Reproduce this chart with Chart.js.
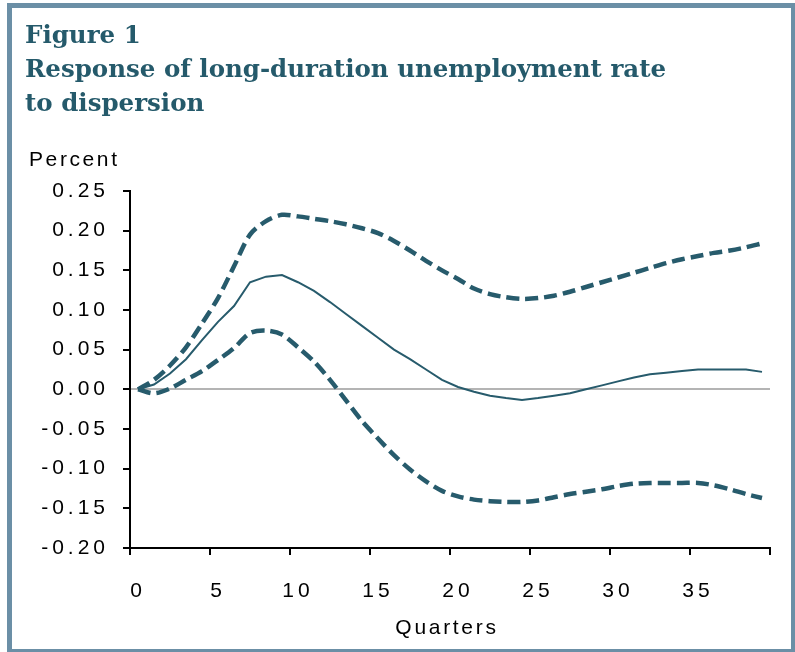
<!DOCTYPE html>
<html><head><meta charset="utf-8">
<script src="https://cdn.jsdelivr.net/npm/chart.js@4.4.0/dist/chart.umd.min.js"></script>
<style>
html,body{margin:0;padding:0;background:#fff;}
body{width:795px;height:652px;position:relative;overflow:hidden;}
#c{position:absolute;left:0;top:0;}
#frame{position:absolute;left:7px;top:3px;width:789px;height:651px;border:5px solid #6b8fa6;box-sizing:border-box;pointer-events:none;}
#title{position:absolute;left:25px;top:18px;font-family:"DejaVu Serif",serif;font-weight:bold;font-size:24.5px;line-height:34px;color:#255a6b;white-space:nowrap;}
.axt{position:absolute;font-family:"Liberation Sans",Arial,sans-serif;font-size:21px;line-height:21px;color:#000;white-space:nowrap;}
#ylab{left:29px;top:148px;letter-spacing:2.6px;}
#xlab{left:347px;width:200px;text-align:center;top:616px;letter-spacing:2.7px;}
</style></head>
<body>
<canvas id="c" width="795" height="652"></canvas>
<div id="title">Figure 1<br>Response of long-duration unemployment rate<br>to dispersion</div>
<div id="ylab" class="axt">Percent</div>
<div id="xlab" class="axt">Quarters</div>
<div id="frame"></div>
<script>
const quarters = [0,1,2,3,4,5,6,7,8,9,10,11,12,13,14,15,16,17,18,19,20,21,22,23,24,25,26,27,28,29,30,31,32,33,34,35,36,37,38,39];
const response = [0,0.006,0.02,0.038,0.062,0.085,0.105,0.135,0.142,0.144,0.135,0.124,0.110,0.095,0.080,0.065,0.050,0.038,0.025,0.012,0.003,-0.003,-0.008,-0.011,-0.0135,-0.011,-0.008,-0.005,0.000,0.005,0.010,0.015,0.019,0.021,0.023,0.025,0.025,0.025,0.025,0.022];
const upperBand = [0,0.012,0.03,0.053,0.083,0.115,0.155,0.195,0.212,0.220,0.218,0.215,0.212,0.208,0.203,0.197,0.187,0.175,0.162,0.150,0.139,0.127,0.120,0.116,0.114,0.115,0.118,0.123,0.129,0.135,0.141,0.147,0.153,0.159,0.164,0.168,0.172,0.175,0.179,0.184];
const lowerBand = [0,-0.005,0.001,0.012,0.023,0.037,0.052,0.071,0.074,0.069,0.053,0.035,0.012,-0.014,-0.040,-0.062,-0.083,-0.101,-0.116,-0.128,-0.135,-0.139,-0.141,-0.142,-0.142,-0.140,-0.136,-0.132,-0.129,-0.126,-0.122,-0.119,-0.118,-0.118,-0.118,-0.118,-0.121,-0.126,-0.132,-0.137];
const yMin = -0.20, yMax = 0.25, yStep = 0.05;
const xLabelEvery = 5;

const lineColor = '#275b6c';
const spacing = {
  id: 'spacing',
  beforeLayout(chart){ chart.ctx.letterSpacing = '4px'; },
  beforeDraw(chart){ chart.ctx.letterSpacing = '4px'; }
};
const font = {family: '"Liberation Sans", Arial, sans-serif', size: 21};

new Chart(document.getElementById('c'), {
  type: 'line',
  data: {
    labels: quarters,
    datasets: [
      {data: upperBand, borderColor: lineColor, borderWidth: 4.5, borderDash: [13, 6], pointRadius: 0, tension: 0.3, fill: false},
      {data: response, borderColor: lineColor, borderWidth: 2, pointRadius: 0, tension: 0, fill: false},
      {data: lowerBand, borderColor: lineColor, borderWidth: 4.5, borderDash: [13, 6], pointRadius: 0, tension: 0.3, fill: false}
    ]
  },
  options: {
    responsive: false,
    animation: false,
    events: [],
    layout: {padding: {left: 0, right: 25, top: 191, bottom: 0}},
    plugins: {legend: {display: false}, tooltip: {enabled: false}, title: {display: false}},
    scales: {
      x: {
        type: 'category',
        offset: true,
        afterFit(s){ s.height = 104; },
        grid: {
          offset: true,
          drawOnChartArea: false,
          drawTicks: true,
          tickLength: 7,
          lineWidth: 2,
          color: (ctx) => (ctx.index === undefined || ctx.index % xLabelEvery === 0) ? '#000' : 'rgba(0,0,0,0)'
        },
        border: {display: true, color: '#000', width: 2},
        ticks: {
          autoSkip: false, maxRotation: 0, minRotation: 0, padding: 24,
          color: '#000', font: font,
          callback: function(v, i){ const l = this.getLabelForValue(v); return (l % xLabelEvery === 0) ? String(l) : ''; }
        },
        title: {display: false}
      },
      y: {
        min: yMin, max: yMax,
        afterFit(s){ s.width = 130; },
        grid: {
          drawOnChartArea: true,
          drawTicks: true,
          tickLength: 7,
          tickColor: '#000',
          tickWidth: 2,
          lineWidth: 2,
          color: (ctx) => (ctx.tick && Math.abs(ctx.tick.value) < 1e-9) ? '#b4b4b4' : 'rgba(0,0,0,0)'
        },
        border: {display: true, color: '#000', width: 2},
        ticks: {
          stepSize: yStep, padding: 14, color: '#000', font: font,
          callback: (v) => v.toFixed(2)
        }
      }
    }
  },
  plugins: [spacing]
});
</script>
</body></html>
